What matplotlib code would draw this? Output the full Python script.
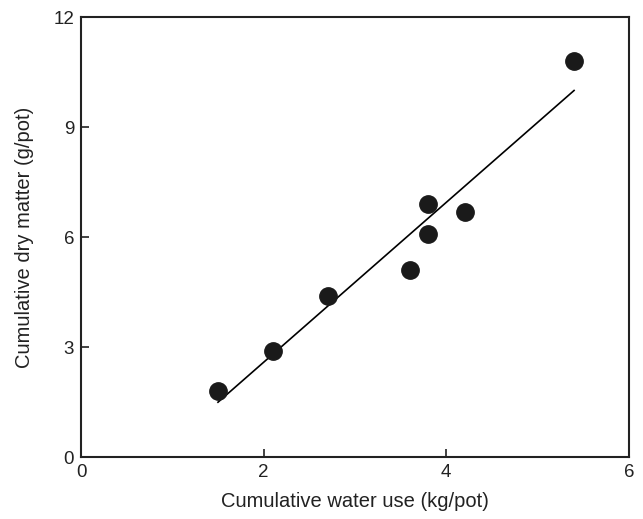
import matplotlib
matplotlib.use("Agg")
from matplotlib import pyplot as plt

# Data
water_use = [1.5, 2.1, 2.7, 3.6, 3.8, 3.8, 4.2, 5.4]
dry_matter = [1.8, 2.9, 4.4, 5.1, 6.1, 6.9, 6.7, 10.8]

# regression line end points
fit_x = [1.5, 5.4]
fit_y = [1.5, 10.0]

x_ticks = [0, 2, 4, 6]
y_ticks = [0, 3, 6, 9, 12]

plt.rcParams['font.family'] = ['Liberation Sans', 'DejaVu Sans']

fig = plt.figure(figsize=(6.43, 5.19), dpi=100)
ax = fig.add_axes([0.126, 0.119, 0.852, 0.848])

ax.plot(fit_x, fit_y, color="black", linewidth=1.2)
ax.plot(water_use, dry_matter, "o", color="#1a1a1a", markersize=12.5, zorder=3)

ax.set_xlim(0, 6)
ax.set_ylim(0, 12)
ax.set_xticks(x_ticks)
ax.set_yticks(y_ticks)
ax.tick_params(direction="in", length=6, width=1.2, labelsize=13.5, pad=5, colors="#222222")
for s in ax.spines.values():
    s.set_linewidth(1.5)
    s.set_color("#222222")

ax.set_xlabel("Cumulative water use (kg/pot)", fontsize=14.5, labelpad=8, color="#222222")
ax.set_ylabel("Cumulative dry matter (g/pot)", fontsize=14.5, labelpad=14, color="#222222")

plt.savefig("out.png")
